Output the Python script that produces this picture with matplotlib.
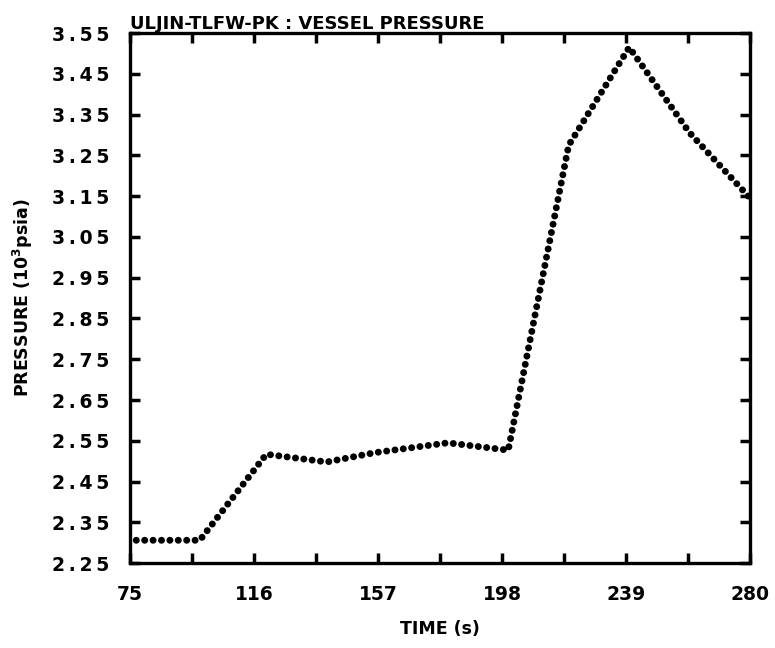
import numpy as np
import matplotlib.pyplot as plt

# data (time in s, pressure in 10^3 psia)
time_s = [77, 98, 120, 140, 156, 180, 200, 220, 240, 260, 280]
pressure = [2.306, 2.306, 2.517, 2.498, 2.521, 2.545, 2.527, 3.275, 3.515, 3.305, 3.145]

x_labels = [75, 116, 157, 198, 239, 280]
y_labels = [2.25, 2.35, 2.45, 2.55, 2.65, 2.75, 2.85, 2.95, 3.05, 3.15, 3.25, 3.35, 3.45, 3.55]

tick_font = {'family': 'DejaVu Sans', 'weight': 'bold', 'size': 13.5}
label_font = {'family': 'DejaVu Sans', 'weight': 'bold', 'size': 12.5}

fig = plt.figure(figsize=(7.75, 6.48), dpi=100)
ax = fig.add_axes([0.168, 0.131, 0.8, 0.818])

ax.plot(time_s, pressure, color='black', linewidth=5,
        linestyle=(0, (0.01, 1.2)), dash_capstyle='round')

ax.set_xlim(75, 280)
ax.set_ylim(2.25, 3.55)

# ticks every half label step on x, every label on y
xt = [75 + 20.5 * i for i in range(11)]
ax.set_xticks(xt)
ax.set_xticklabels([str(int(v)) if i % 2 == 0 else '' for i, v in enumerate(xt)],
                   fontdict=tick_font)
ax.set_yticks(y_labels)
ax.set_yticklabels(['\u2009'.join('%.2f' % v) for v in y_labels], fontdict=tick_font)

ax.tick_params(axis='both', direction='in', length=7, width=2.5,
               top=True, right=True, color='black')
ax.tick_params(axis='x', pad=15.5)
ax.tick_params(axis='y', pad=15)

for s in ax.spines.values():
    s.set_linewidth(2.4)

ax.set_xlabel('TIME (s)', fontdict=label_font, labelpad=12)
ax.set_ylabel('PRESSURE (10$^\\mathbf{3}$psia)', fontdict=label_font, labelpad=12)
ax.set_title('ULJIN-TLFW-PK : VESSEL PRESSURE', fontdict=dict(label_font, size=13),
             loc='left', pad=3)

fig.savefig('out.png', dpi=100)
